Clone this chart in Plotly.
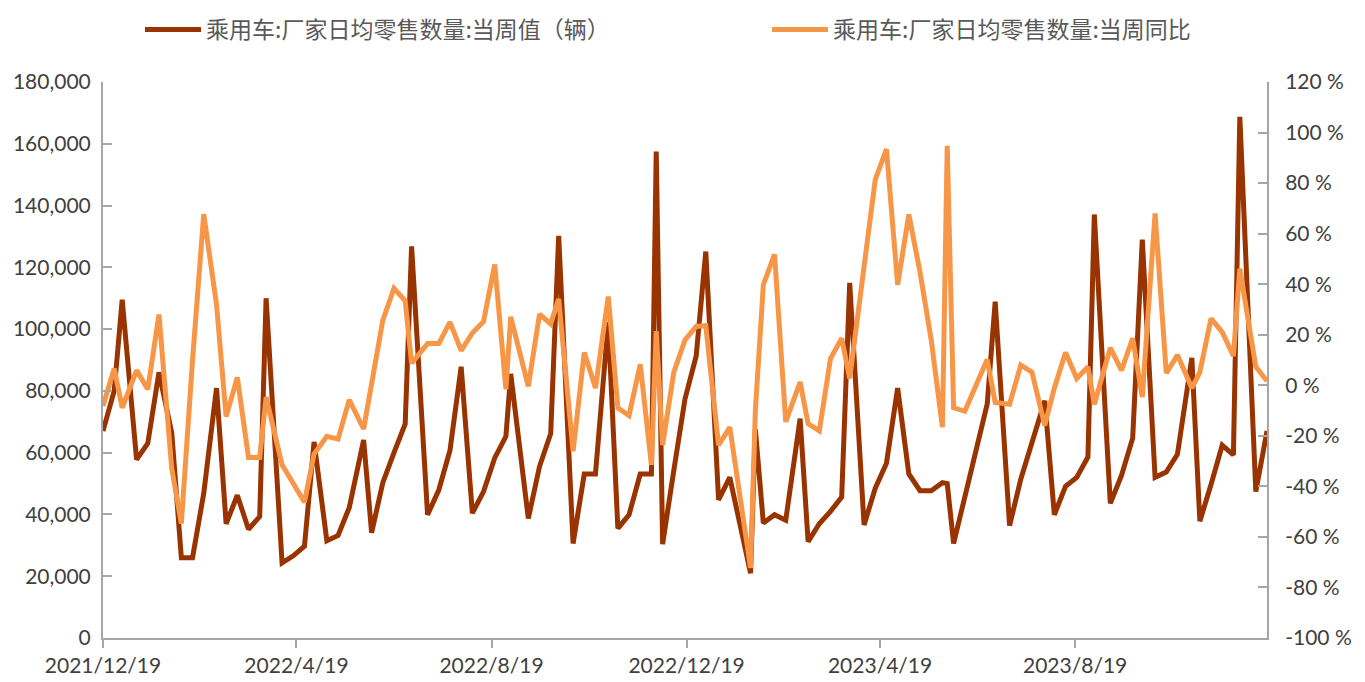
import plotly.graph_objects as go

dates = [
    "2021-12-19", "2021-12-26", "2021-12-31",
    "2022-01-09", "2022-01-16", "2022-01-23", "2022-01-31",
    "2022-02-06", "2022-02-13", "2022-02-20", "2022-02-28",
    "2022-03-06", "2022-03-13", "2022-03-20", "2022-03-27", "2022-03-31",
    "2022-04-10", "2022-04-17", "2022-04-24", "2022-04-30",
    "2022-05-08", "2022-05-15", "2022-05-22", "2022-05-31",
    "2022-06-05", "2022-06-12", "2022-06-19", "2022-06-26", "2022-06-30",
    "2022-07-10", "2022-07-17", "2022-07-24", "2022-07-31",
    "2022-08-07", "2022-08-14", "2022-08-21", "2022-08-28", "2022-08-31",
    "2022-09-11", "2022-09-18", "2022-09-25", "2022-09-30",
    "2022-10-09", "2022-10-16", "2022-10-23", "2022-10-31",
    "2022-11-06", "2022-11-13", "2022-11-20", "2022-11-27", "2022-11-30",
    "2022-12-04", "2022-12-11", "2022-12-18", "2022-12-25", "2022-12-31",
    "2023-01-08", "2023-01-15", "2023-01-28", "2023-01-31",
    "2023-02-05", "2023-02-12", "2023-02-19", "2023-02-28",
    "2023-03-05", "2023-03-12", "2023-03-19", "2023-03-26", "2023-03-31",
    "2023-04-09", "2023-04-16", "2023-04-23", "2023-04-30",
    "2023-05-07", "2023-05-14", "2023-05-21", "2023-05-28", "2023-05-31",
    "2023-06-04", "2023-06-11", "2023-06-18", "2023-06-25", "2023-06-30",
    "2023-07-09", "2023-07-16", "2023-07-23", "2023-07-31",
    "2023-08-06", "2023-08-13", "2023-08-20", "2023-08-27", "2023-08-31",
    "2023-09-10", "2023-09-17", "2023-09-24", "2023-09-30",
    "2023-10-08", "2023-10-15", "2023-10-22", "2023-10-31",
    "2023-11-05", "2023-11-12", "2023-11-19", "2023-11-26", "2023-11-30",
    "2023-12-10", "2023-12-17",
]

daily_retail = [
    67000, 80000, 109500,
    57800, 63000, 86000, 66400,
    26000, 26000, 46800, 80900,
    37000, 46200, 35200, 39300, 110000,
    24300, 26600, 29700, 63500,
    31500, 33200, 42200, 64100,
    34100, 50300, 60000, 69300, 126800,
    39900, 47900, 60700, 87800,
    40400, 47400, 58300, 65300, 85500,
    38700, 55500, 66200, 130200,
    30600, 53100, 53100, 102200,
    35500, 39900, 53100, 53100, 157500,
    30400, 54300, 77400, 91300, 125100,
    44700, 52000, 21000, 67600,
    37200, 39900, 38100, 71000,
    31200, 37000, 41000, 45600, 115000,
    36600, 48500, 56600, 80900,
    53100, 47700, 47700, 50300, 50000,
    30600, 45900, 60600, 75700, 108900,
    36400, 51400, 63500, 76800,
    39900, 49100, 52000, 58600, 137100,
    43600, 52600, 64700, 129000,
    52000, 53700, 59500, 90700,
    37800, 49700, 62400, 59300, 168700,
    47400, 67000,
]

yoy_pct = [
    -8.2, 6.6, -8.9,
    5.9, -1.6, 28.0, -32.9,
    -54.7, 10.0, 67.7, 32.0,
    -12.4, 3.1, -28.6, -28.6, -4.7,
    -31.5, -39.0, -46.3, -27.2,
    -20.2, -21.3, -5.8, -17.3,
    -0.4, 25.7, 38.4, 33.4, 8.7,
    16.5, 16.5, 25.0, 13.7,
    20.7, 25.2, 47.8, -1.6, 27.1,
    -0.4, 28.1, 24.3, 34.1,
    -26.1, 13.0, -1.1, 35.1,
    -8.9, -12.0, 8.3, -31.5, 21.4,
    -23.7, 5.2, 17.9, 23.3, 23.6,
    -23.7, -16.6, -72.3, -10.0,
    39.8, 51.8, -14.5, 1.3,
    -15.2, -18.0, 10.6, 18.6, 2.7,
    45.0, 81.4, 93.4, 39.8,
    67.6, 44.7, 17.9, -16.6, 94.8,
    -8.9, -10.3, -0.4, 10.2, -6.8,
    -7.5, 8.0, 5.2, -15.9,
    -1.1, 13.0, 2.7, 7.3, -7.5,
    14.8, 5.9, 18.6, -4.7,
    68.0, 4.8, 12.0, -1.1,
    5.2, 26.4, 21.0, 11.6, 46.1,
    7.3, 1.7,
]

x_tick_dates = ["2021-12-19", "2022-04-19", "2022-08-19", "2022-12-19", "2023-04-19", "2023-08-19"]
x_tick_labels = ["2021/12/19", "2022/4/19", "2022/8/19", "2022/12/19", "2023/4/19", "2023/8/19"]

left_ticks = list(range(0, 180001, 20000))
right_ticks = list(range(-100, 121, 20))
right_tick_labels = [f"{v} %" for v in right_ticks]

name_value = "乘用车:厂家日均零售数量:当周值（辆）"
name_yoy = "乘用车:厂家日均零售数量:当周同比"

DARK = "#993300"
ORANGE = "#F79646"
AXIS = "#A6A6A6"
TEXT = "#404040"

W, H = 1357, 674  # page body adds an 8px offset

fig = go.Figure()
fig.add_trace(go.Scatter(x=dates, y=daily_retail, name=name_value, mode="lines",
                         line=dict(color=DARK, width=5), yaxis="y", legend="legend"))
fig.add_trace(go.Scatter(x=dates, y=yoy_pct, name=name_yoy, mode="lines",
                         line=dict(color=ORANGE, width=5), yaxis="y2", legend="legend2"))

legend_font = dict(family="'Noto Sans CJK SC', sans-serif", size=23, color="#595959")
leg_y = 1 + 5 / H

fig.update_layout(
    width=W, height=H,
    margin=dict(l=95, r=98, t=74, b=44, autoexpand=False),
    plot_bgcolor="white", paper_bgcolor="white",
    font=dict(family="Lato, 'Noto Sans CJK SC', sans-serif", size=21, color=TEXT),
    showlegend=True,
    legend=dict(xref="container", yref="container", x=132 / W, y=leg_y,
                xanchor="left", yanchor="top", font=legend_font, itemwidth=56,
                bgcolor="rgba(0,0,0,0)"),
    legend2=dict(xref="container", yref="container", x=759 / W, y=leg_y,
                 xanchor="left", yanchor="top", font=legend_font, itemwidth=56,
                 bgcolor="rgba(0,0,0,0)"),
    xaxis=dict(type="date", range=["2021-12-19", "2023-12-17"],
               tickvals=x_tick_dates, ticktext=x_tick_labels,
               showgrid=False, zeroline=False, showline=True, linecolor=AXIS, linewidth=2,
               ticks="outside", ticklen=8, tickwidth=2, tickcolor=AXIS,
               tickfont=dict(size=21, color=TEXT)),
    yaxis=dict(range=[0, 180000], tickvals=left_ticks, tickformat=",d",
               showgrid=False, zeroline=False, showline=True, linecolor=AXIS, linewidth=2,
               ticks="inside", ticklen=9, tickwidth=2, tickcolor=AXIS,
               tickfont=dict(size=21, color=TEXT), ticklabelstandoff=6),
    yaxis2=dict(range=[-100, 120], tickvals=right_ticks, ticktext=right_tick_labels,
                overlaying="y", side="right",
                showgrid=False, zeroline=False, showline=True, linecolor=AXIS, linewidth=2,
                ticks="inside", ticklen=9, tickwidth=2, tickcolor=AXIS,
                tickfont=dict(size=21, color=TEXT), ticklabelstandoff=12),
)

fig.write_html("out.html")
